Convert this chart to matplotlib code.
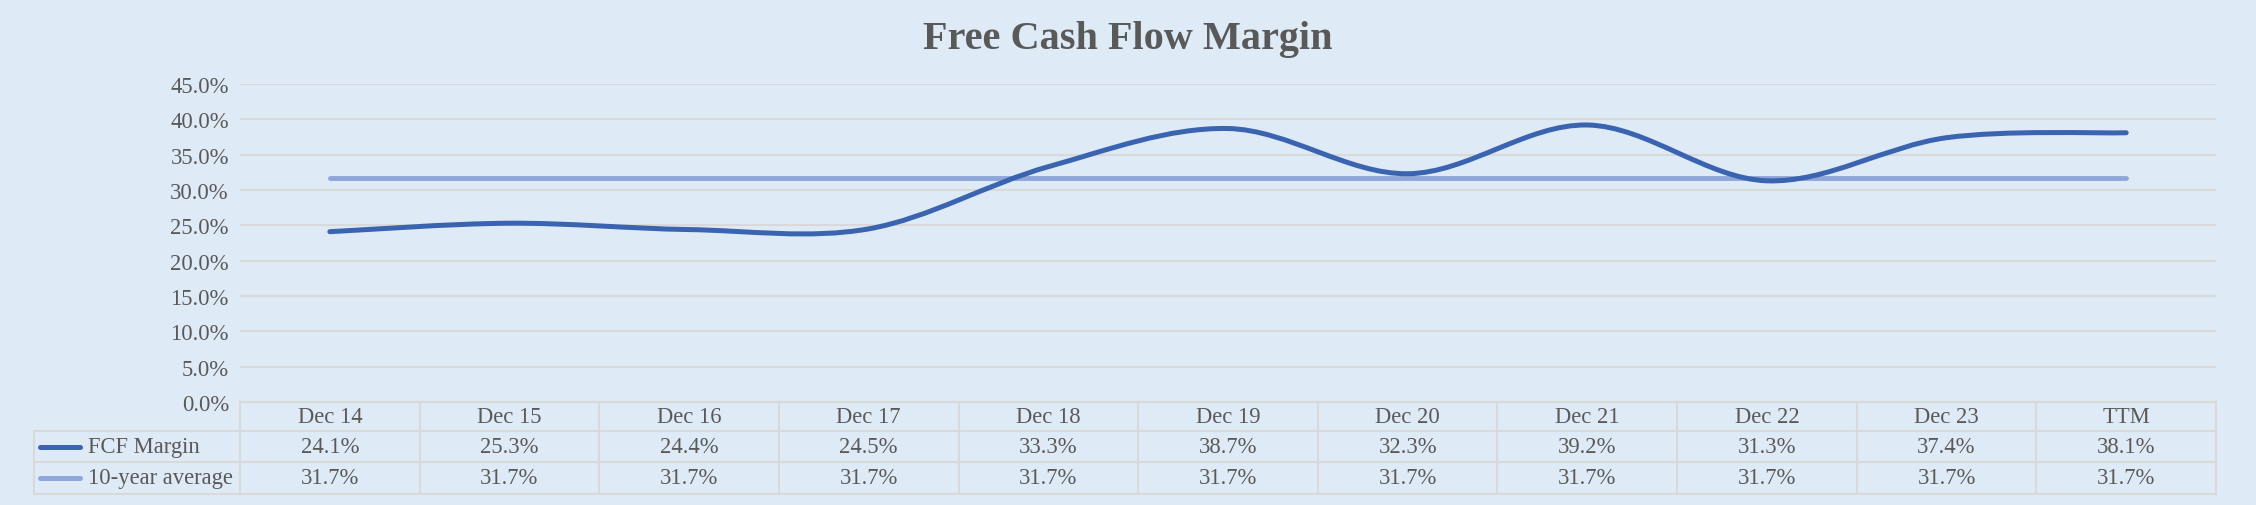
import numpy as np
import matplotlib.pyplot as plt
from matplotlib.path import Path
from matplotlib.patches import PathPatch
from matplotlib.lines import Line2D

# data
periods = ['Dec 14', 'Dec 15', 'Dec 16', 'Dec 17', 'Dec 18', 'Dec 19',
           'Dec 20', 'Dec 21', 'Dec 22', 'Dec 23', 'TTM']
fcf_margin = [24.1, 25.3, 24.4, 24.5, 33.3, 38.7, 32.3, 39.2, 31.3, 37.4, 38.1]
avg_10y = [31.7, 31.7, 31.7, 31.7, 31.7, 31.7, 31.7, 31.7, 31.7, 31.7, 31.7]
series_names = ['FCF Margin', '10-year average']

bg = '#DEEAF6'
grid_c = '#D9D9D9'
text_c = '#595959'
c_fcf = '#3A63B0'
c_avg = '#8FA6D8'
font = 'Liberation Serif'

W, H = 2256, 506
fig = plt.figure(figsize=(W / 100, H / 100), dpi=100, facecolor=bg)

left, right = 240 / W, 2216 / W
bottom, top = 1 - 403 / H, 1 - 85 / H
ax = fig.add_axes([left, bottom, right - left, top - bottom])
ax.set_facecolor(bg)

n = len(periods)
x = np.arange(n)
ax.set_xlim(-0.5, n - 0.5)
ax.set_ylim(0, 45)
ax.set_yticks(np.arange(0, 46, 5))
ax.set_yticklabels([f'{v:.1f}%' for v in np.arange(0, 46, 5)],
                   fontfamily=font, fontsize=16.3, color=text_c)
ax.set_xticks([])
ax.tick_params(axis='y', length=0, pad=8)
ax.grid(axis='y', color=grid_c, lw=1.5)
ax.set_axisbelow(True)
for s in ax.spines.values():
    s.set_visible(False)


def smooth_path(xs, ys):
    # bezier curve through the points, like excel's smoothed line
    pts = np.column_stack([xs, ys]).astype(float)
    verts = [pts[0]]
    codes = [Path.MOVETO]
    for i in range(len(pts) - 1):
        p0 = pts[i - 1] if i > 0 else pts[i]
        p1 = pts[i]
        p2 = pts[i + 1]
        p3 = pts[i + 2] if i + 2 < len(pts) else pts[i + 1]
        c1 = p1 + (p2 - p0) / 6
        c2 = p2 - (p3 - p1) / 6
        verts += [c1, c2, p2]
        codes += [Path.CURVE4] * 3
    return Path(verts, codes)


ax.plot(x, avg_10y, color=c_avg, lw=3.5, solid_capstyle='round', zorder=3)
ax.add_patch(PathPatch(smooth_path(x, fcf_margin), fill=False, edgecolor=c_fcf,
                       lw=3.6, capstyle='round', zorder=4))

fig.suptitle('Free Cash Flow Margin', x=0.5, y=1 - 40 / H, va='center',
             fontfamily=font, fontsize=29, fontweight='bold', color=text_c)

# data table under the chart
row_y = [403, 432, 463, 495]
tbl_left = 34
col_w = (2216 - 240) / n


def fx(px):
    return px / W


def fy(py):
    return 1 - py / H


lkw = dict(color=grid_c, lw=1.5, transform=fig.transFigure)
fig.add_artist(Line2D([fx(240), fx(2216)], [fy(row_y[0])] * 2, **lkw))
for yy in row_y[1:]:
    fig.add_artist(Line2D([fx(tbl_left), fx(2216)], [fy(yy)] * 2, **lkw))
fig.add_artist(Line2D([fx(tbl_left)] * 2, [fy(row_y[1]), fy(row_y[3])], **lkw))
for i in range(n + 1):
    xx = 240 + i * col_w
    fig.add_artist(Line2D([fx(xx)] * 2, [fy(row_y[0]), fy(row_y[3])], **lkw))

tkw = dict(fontfamily=font, fontsize=16.3, color=text_c, va='center',
           transform=fig.transFigure)
for i, p in enumerate(periods):
    cx = 240 + (i + 0.5) * col_w
    fig.text(fx(cx), fy((row_y[0] + row_y[1]) / 2), p, ha='center', **tkw)
    fig.text(fx(cx), fy((row_y[1] + row_y[2]) / 2), f'{fcf_margin[i]:.1f}%',
             ha='center', **tkw)
    fig.text(fx(cx), fy((row_y[2] + row_y[3]) / 2), f'{avg_10y[i]:.1f}%',
             ha='center', **tkw)

for r, (name, col) in enumerate(zip(series_names, [c_fcf, c_avg])):
    yc = fy((row_y[r + 1] + row_y[r + 2]) / 2)
    fig.add_artist(Line2D([fx(40), fx(80)], [yc, yc], color=col, lw=3.6,
                          solid_capstyle='round', transform=fig.transFigure))
    fig.text(fx(88), yc, name, ha='left', **tkw)

fig.savefig('out.png', dpi=100, facecolor=bg)
